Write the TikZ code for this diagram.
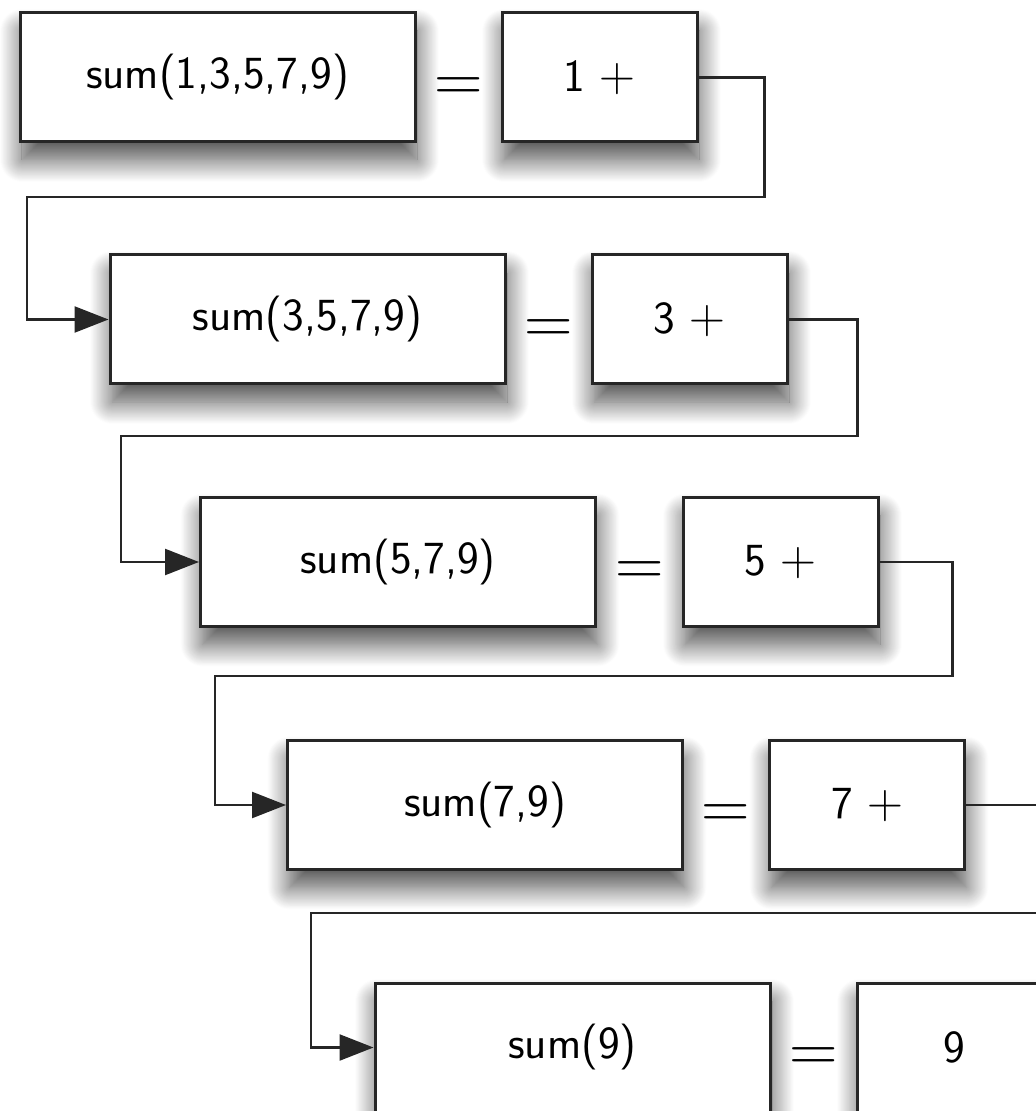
\documentclass[tikz,border=0pt]{standalone}
\usetikzlibrary{positioning,calc,arrows.meta,shadows.blur}
\newcommand{\bigeq}{\scalebox{1.35}{$=$}}
\begin{document}
\begin{tikzpicture}[x=0.5pt,y=-0.5pt,
  callbox/.style={draw=black!85,line width=1.5pt,fill=white,
    minimum width=197.5pt,minimum height=64.5pt,font=\sffamily\fontsize{23}{28}\selectfont,
    blur shadow={shadow xshift=1pt,shadow yshift=-9pt,shadow blur radius=11pt,
      shadow blur steps=24,shadow opacity=70}},
  partbox/.style={callbox,minimum width=97.5pt},
  eqsign/.style={font=\Huge,yshift=-6pt},
  into/.style={draw=black!85,line width=1.2pt,-{Triangle[length=17pt,width=13pt]}}]
  \useasboundingbox (0,0) rectangle (1036,1111);
  \clip (0,0) rectangle (1036,1111);

  % one row per call
  \node[callbox] (sum1) at (217.5,77.5) {sum(1,3,5,7,9)};
  \node[partbox] (part1) at (599.5,77.5) {1 $+$};
  \node[eqsign] (eq1) at ($(sum1.east)!0.5!(part1.west)$) {\bigeq};

  \node[callbox] (sum2) at (307.5,319.5) {sum(3,5,7,9)};
  \node[partbox] (part2) at (689.5,319.5) {3 $+$};
  \node[eqsign] (eq2) at ($(sum2.east)!0.5!(part2.west)$) {\bigeq};

  \node[callbox] (sum3) at (398,562) {sum(5,7,9)};
  \node[partbox] (part3) at (780.5,562) {5 $+$};
  \node[eqsign] (eq3) at ($(sum3.east)!0.5!(part3.west)$) {\bigeq};

  \node[callbox] (sum4) at (485,805) {sum(7,9)};
  \node[partbox] (part4) at (867,805) {7 $+$};
  \node[eqsign] (eq4) at ($(sum4.east)!0.5!(part4.west)$) {\bigeq};

  \node[callbox] (sum5) at (572.5,1047.5) {sum(9)};
  \node[partbox] (part5) at (954.5,1047.5) {9};
  \node[eqsign] (eq5) at ($(sum5.east)!0.5!(part5.west)$) {\bigeq};

  % the recursive calls
  \draw[into] (part1.east) -- ++(66,0) |- (27,197) |- (sum2.west);
  \draw[into] (part2.east) -- ++(69,0) |- (121,436) |- (sum3.west);
  \draw[into] (part3.east) -- ++(73,0) |- (215,676) |- (sum4.west);
  \draw[into] (part4.east) -- (1045,805) |- (311,913) |- (sum5.west);
\end{tikzpicture}
\end{document}
